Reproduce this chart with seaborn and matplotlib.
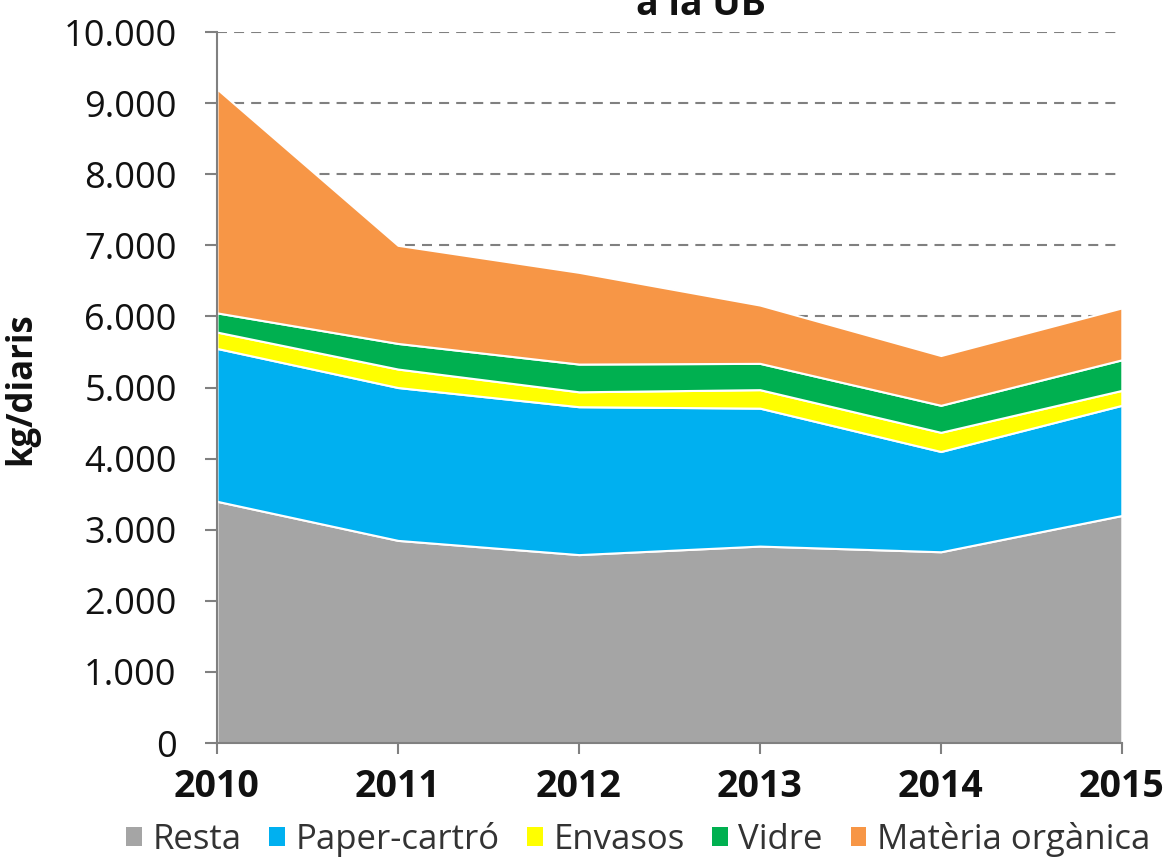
import numpy as np
import matplotlib
matplotlib.use("Agg")
import matplotlib.pyplot as plt
import matplotlib.ticker as mticker
from matplotlib.patches import Patch
import seaborn as sns

# Data (kg/diaris per fraction)
years = [2010, 2011, 2012, 2013, 2014, 2015]
resta = [3400, 2850, 2650, 2770, 2690, 3200]
paper = [2150, 2150, 2080, 1940, 1410, 1550]
envasos = [230, 260, 210, 260, 270, 210]
vidre = [270, 360, 390, 370, 380, 430]
organica = [3150, 1380, 1290, 820, 700, 730]

labels = ['Resta', 'Paper-cartró', 'Envasos', 'Vidre', 'Matèria orgànica']
colors = ['#A5A5A5', '#00B0F0', '#FFFF00', '#00B050', '#F79646']

sns.set_theme(style='white')
plt.rcParams['font.family'] = ['Open Sans', 'DejaVu Sans']

fig = plt.figure(figsize=(11.71, 8.66), dpi=100)
ax = fig.add_axes([0.1853, 0.142, 0.958 - 0.1853, 0.963 - 0.142])

ax.stackplot(years, resta, paper, envasos, vidre, organica,
             colors=colors, edgecolor='white', linewidth=1.5, zorder=2)

# dashed gridlines behind the areas
ax.set_ylim(0, 10000)
ax.set_xlim(2010, 2015)
ax.yaxis.set_major_locator(mticker.MultipleLocator(1000))
ax.yaxis.set_major_formatter(mticker.FuncFormatter(lambda v, p: f"{int(v):,}".replace(',', '.')))
ax.set_xticks(years)
ax.grid(axis='y', color='#808080', linestyle=(0, (4.8, 3.4)), linewidth=1.5, zorder=0)
ax.set_axisbelow(True)

for s in ['top', 'right']:
    ax.spines[s].set_visible(False)
for s in ['left', 'bottom']:
    ax.spines[s].set_color('#808080')
    ax.spines[s].set_linewidth(1.5)
ax.spines['bottom'].set_zorder(3)

ax.tick_params(axis='y', left=True, length=9, width=1.5, color='#808080', labelsize=26, pad=20,
               labelcolor='#111111')
ax.tick_params(axis='x', bottom=True, length=8, width=1.5, color='#808080', labelsize=27, pad=10,
               labelcolor='#111111')
for t in ax.get_xticklabels():
    t.set_fontweight('bold')
ax.set_ylabel('kg/diaris', fontsize=25, fontweight='bold', color='#111111')
ax.yaxis.set_label_coords(-0.196, 0.498)

# title, clipped at the top as in the original
fig.text(0.599, 0.983, 'a la UB', ha='center', va='baseline', fontsize=27, fontweight='bold',
         color='#111111')

handles = [Patch(facecolor=c, edgecolor='none') for c in colors]
fig.legend(handles, labels, loc='center', bbox_to_anchor=(0.545, 0.031), ncol=5,
           frameon=False, fontsize=25, handlelength=0.45, handleheight=0.45,
           handletextpad=0.3, columnspacing=0.8, labelcolor='#333333')

fig.savefig('out.png', dpi=100)
